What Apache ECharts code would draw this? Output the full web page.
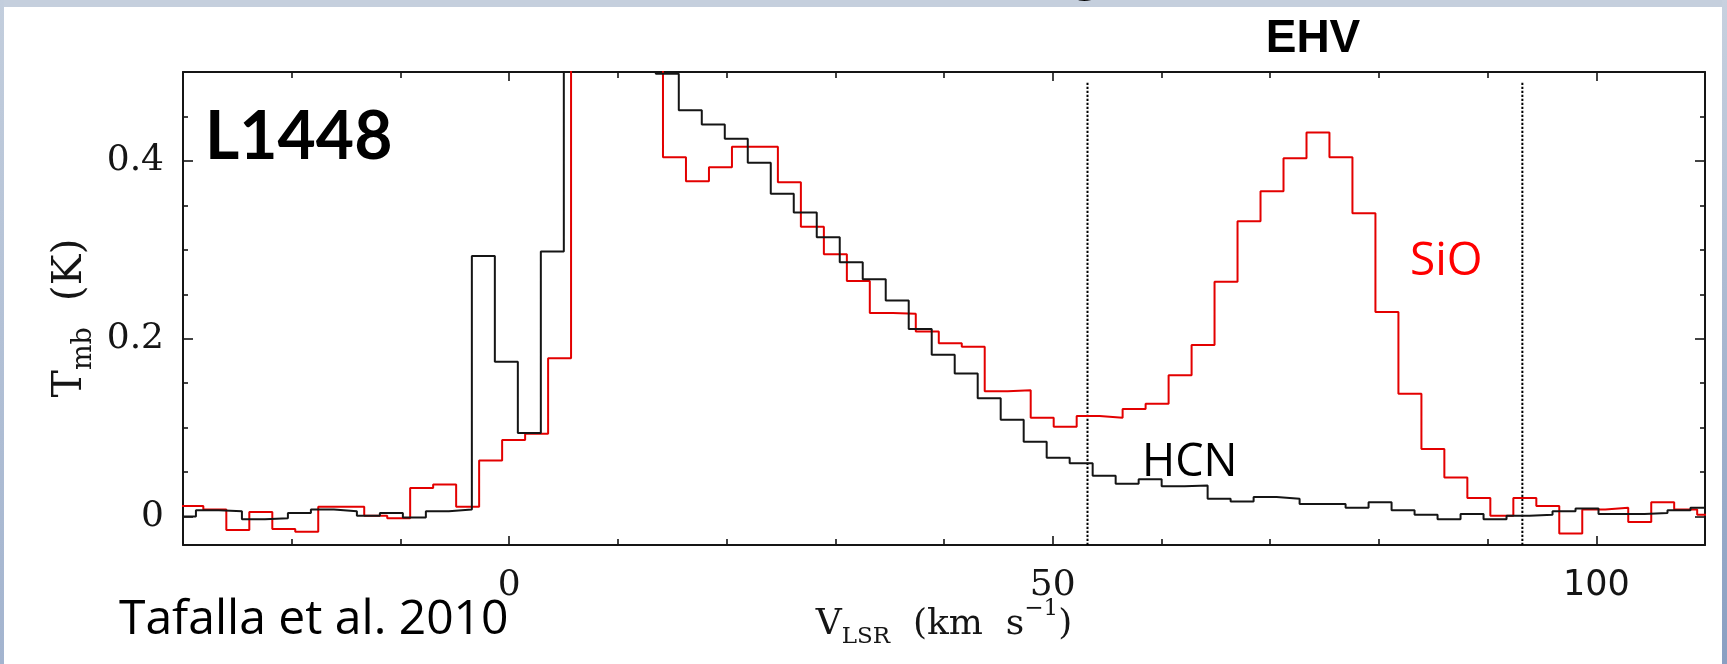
<!DOCTYPE html>
<html>
<head>
<meta charset="utf-8">
<script src="https://cdn.jsdelivr.net/npm/echarts@6/dist/echarts.min.js"></script>
<style>
  html, body { margin: 0; padding: 0; background: #ffffff; }
  #chart { width: 1727px; height: 664px; }
</style>
</head>
<body>
<div id="chart"></div>
<script>
// L1448 spectra: HCN (black) and SiO (red), channel-centre velocities in km/s
// and main-beam temperatures in K. Channels above 0.5 K run off the top.
const hcnVelocity = [
  -29.87, -27.75, -25.64, -23.52, -21.41, -19.29, -17.18, -15.06, -12.95, -10.83,
  -8.72, -6.60, -4.49, -2.37, -0.26, 1.86, 3.97, 6.09, 8.20, 10.32,
  12.43, 14.55, 16.66, 18.78, 20.89, 23.01, 25.12, 27.24, 29.35, 31.47,
  33.58, 35.70, 37.81, 39.93, 42.04, 44.16, 46.27, 48.39, 50.50, 52.62,
  54.73, 56.85, 58.96, 61.08, 63.19, 65.31, 67.42, 69.54, 71.65, 73.77,
  75.88, 78.00, 80.11, 82.23, 84.34, 86.46, 88.57, 90.69, 92.80, 94.92,
  97.03, 99.15, 101.26, 103.38, 105.49, 107.61, 109.72
];
const hcnTmb = [
  0.000, 0.007, 0.006, -0.003, -0.002, 0.004, 0.008, 0.006, 0.001, 0.004,
  -0.001, 0.006, 0.008, 0.293, 0.174, 0.094, 0.298, 0.95, 1.85, 1.62,
  0.82, 0.498, 0.457, 0.441, 0.425, 0.398, 0.363, 0.342, 0.314, 0.286,
  0.267, 0.243, 0.211, 0.182, 0.161, 0.133, 0.109, 0.084, 0.066, 0.060,
  0.046, 0.037, 0.042, 0.034, 0.035, 0.020, 0.017, 0.022, 0.020, 0.014,
  0.014, 0.010, 0.016, 0.007, 0.002, -0.003, 0.003, -0.003, 0.001, 0.002,
  0.006, 0.009, 0.003, 0.003, 0.004, 0.007, 0.010
];
const sioVelocity = [
  -29.19, -27.07, -24.96, -22.84, -20.73, -18.62, -16.50, -14.39, -12.27, -10.16,
  -8.05, -5.93, -3.82, -1.70, 0.41, 2.53, 4.64, 6.75, 8.87, 10.98,
  13.09, 15.21, 17.32, 19.44, 21.55, 23.66, 25.78, 27.89, 30.01, 32.12,
  34.23, 36.35, 38.46, 40.58, 42.69, 44.80, 46.92, 49.03, 51.15, 53.26,
  55.37, 57.49, 59.60, 61.72, 63.83, 65.94, 68.06, 70.17, 72.29, 74.40,
  76.51, 78.63, 80.74, 82.86, 84.97, 87.08, 89.20, 91.31, 93.43, 95.54,
  97.65, 99.77, 101.88, 104.00, 106.11, 108.22, 110.34
];
const sioTmb = [
  0.012, 0.008, -0.015, 0.005, -0.014, -0.017, 0.011, 0.011, 0.001, -0.002,
  0.032, 0.036, 0.011, 0.063, 0.086, 0.093, 0.178, 0.78, 1.35, 1.10,
  0.62, 0.404, 0.377, 0.393, 0.416, 0.416, 0.376, 0.326, 0.295, 0.265,
  0.229, 0.228, 0.208, 0.195, 0.191, 0.141, 0.142, 0.111, 0.101, 0.113,
  0.111, 0.121, 0.127, 0.159, 0.193, 0.264, 0.332, 0.366, 0.403, 0.432,
  0.404, 0.341, 0.230, 0.138, 0.076, 0.044, 0.021, 0.001, 0.021, 0.012,
  -0.019, 0.008, 0.010, -0.006, 0.016, 0.008, 0.002
];
const channelWidth = 2.115;          // km/s
const ehvLimits = [53.2, 93.2];      // extremely-high-velocity window, km/s
const ehvLineTop = 0.49;             // K

const xRange = [-30, 110];
const yRange = [-0.032, 0.5];
const xMajorTicks = [0, 50, 100];
const xMinorTicks = [-20, -10, 10, 20, 30, 40, 60, 70, 80, 90];
const yMajorTicks = [0, 0.2, 0.4];
const yMinorTicks = [0.05, 0.1, 0.15, 0.25, 0.3, 0.35, 0.45];

// Turn channel centres into histogram outline vertices (flat top per channel).
function histogram(vel, tmb, width) {
  const pts = [];
  for (let i = 0; i < vel.length; i++) {
    const lo = i === 0 ? vel[0] - width / 2 : (vel[i - 1] + vel[i]) / 2;
    const hi = i === vel.length - 1 ? vel[i] + width / 2 : (vel[i] + vel[i + 1]) / 2;
    pts.push([lo, tmb[i]], [hi, tmb[i]]);
  }
  return pts;
}

const INK = '#151515';
const frameLine = { color: INK, width: 2 };
const tickLine = { color: INK, width: 1.6 };
const SERIF = 'DejaVu Serif';

const gridBox = { left: 183, right: 22, top: 72, bottom: 119 };

function titleRich(size, subSize, supRise) {
  return {
    n:   { fontFamily: SERIF, fontSize: size, lineHeight: size, color: INK, padding: [0, 0, 6, 0], verticalAlign: 'bottom' },
    sub: { fontFamily: SERIF, fontSize: subSize, lineHeight: subSize, color: INK, padding: [0, 0, 0, 0], verticalAlign: 'bottom' },
    sup: { fontFamily: SERIF, fontSize: subSize, lineHeight: subSize, color: INK, padding: [0, 0, supRise, 0], verticalAlign: 'bottom' }
  };
}

function baseAxis(extra) {
  return Object.assign({
    type: 'value',
    splitLine: { show: false },
    axisLabel: { show: false },
    axisLine: { show: false, onZero: false }
  }, extra);
}

const option = {
  animation: false,
  backgroundColor: '#ffffff',
  grid: [Object.assign({}, gridBox), Object.assign({}, gridBox)],
  xAxis: [
    baseAxis({
      gridIndex: 0, position: 'bottom', min: xRange[0], max: xRange[1],
      axisLine: { show: true, onZero: false, lineStyle: frameLine },
      axisTick: { show: true, inside: true, length: 9, customValues: xMajorTicks, lineStyle: tickLine },
      axisLabel: {
        show: true, customValues: xMajorTicks, margin: 23,
        formatter: v => (v === 100 ? '{s|' + v + '}' : '{r|' + v + '}'),
        rich: {
          r: { fontFamily: SERIF, fontSize: 36, color: INK },
          s: { fontFamily: 'DejaVu Sans', fontSize: 35, color: INK }
        }
      },
      name: '{n|V}{sub|LSR}{n|  (km  s}{sup|\u22121}{n|)}',
      nameLocation: 'middle', nameGap: 68, nameMoveOverlap: false,
      nameTextStyle: { rich: titleRich(36, 23, 28) }
    }),
    baseAxis({
      gridIndex: 0, position: 'top', min: xRange[0], max: xRange[1],
      axisLine: { show: true, onZero: false, lineStyle: frameLine },
      axisTick: { show: true, inside: true, length: 9, customValues: xMajorTicks, lineStyle: tickLine }
    }),
    baseAxis({
      gridIndex: 1, position: 'bottom', min: xRange[0], max: xRange[1],
      axisTick: { show: true, inside: true, length: 6, customValues: xMinorTicks, lineStyle: tickLine }
    }),
    baseAxis({
      gridIndex: 1, position: 'top', min: xRange[0], max: xRange[1],
      axisTick: { show: true, inside: true, length: 6, customValues: xMinorTicks, lineStyle: tickLine }
    })
  ],
  yAxis: [
    baseAxis({
      gridIndex: 0, position: 'left', min: yRange[0], max: yRange[1],
      axisLine: { show: true, onZero: false, lineStyle: frameLine },
      axisTick: { show: true, inside: true, length: 10, customValues: yMajorTicks, lineStyle: tickLine },
      axisLabel: {
        show: true, customValues: yMajorTicks, margin: 19,
        fontFamily: SERIF, fontSize: 36, color: INK,
        formatter: v => String(v)
      },
      name: '{n|T}{sub|mb}{n|  (K)}',
      nameLocation: 'middle', nameRotate: 90, nameGap: 86, nameMoveOverlap: false,
      nameTextStyle: { rich: titleRich(41, 27, 0), padding: [0, 19, 0, 0] }
    }),
    baseAxis({
      gridIndex: 0, position: 'right', min: yRange[0], max: yRange[1],
      axisLine: { show: true, onZero: false, lineStyle: frameLine },
      axisTick: { show: true, inside: true, length: 10, customValues: yMajorTicks, lineStyle: tickLine }
    }),
    baseAxis({
      gridIndex: 1, position: 'left', min: yRange[0], max: yRange[1],
      axisTick: { show: true, inside: true, length: 5, customValues: yMinorTicks, lineStyle: tickLine }
    }),
    baseAxis({
      gridIndex: 1, position: 'right', min: yRange[0], max: yRange[1],
      axisTick: { show: true, inside: true, length: 5, customValues: yMinorTicks, lineStyle: tickLine }
    })
  ],
  series: [
    ...ehvLimits.map(v => ({
      type: 'line', xAxisIndex: 0, yAxisIndex: 0,
      data: [[v, yRange[0]], [v, ehvLineTop]],
      symbol: 'none', silent: true, clip: false,
      lineStyle: { color: '#000', width: 2, type: [2.2, 1.8] }
    })),
    {
      name: 'SiO', type: 'line', xAxisIndex: 0, yAxisIndex: 0,
      data: histogram(sioVelocity, sioTmb, channelWidth),
      symbol: 'none', clip: true,
      lineStyle: { color: '#e30000', width: 2 }
    },
    {
      name: 'HCN', type: 'line', xAxisIndex: 0, yAxisIndex: 0,
      data: histogram(hcnVelocity, hcnTmb, channelWidth),
      symbol: 'none', clip: true,
      lineStyle: { color: INK, width: 2 }
    }
  ],
  graphic: [
    // slide border strips
    { type: 'rect', silent: true, shape: { x: 0, y: 0, width: 1727, height: 7 }, style: { fill: '#c5cfdd' } },
    { type: 'rect', silent: true, shape: { x: 0, y: 0, width: 4, height: 664 },
      style: { fill: new echarts.graphic.LinearGradient(0, 0, 0, 1, [
        { offset: 0, color: '#c3cedd' }, { offset: 1, color: '#a3b4cf' }]) } },
    { type: 'rect', silent: true, shape: { x: 1722, y: 0, width: 5, height: 664 },
      style: { fill: new echarts.graphic.LinearGradient(0, 0, 0, 1, [
        { offset: 0, color: '#c8d1df' }, { offset: 1, color: '#8a9fc2' }]) } },
    { type: 'text', silent: true, z: 20, style: {
      text: 'g', x: 1085, y: -26, font: 'bold 56px "Liberation Sans"', fill: '#000',
      align: 'center', textAlign: 'center', verticalAlign: 'middle', textVerticalAlign: 'middle' } },
    // annotations
    { type: 'text', silent: true, z: 10, style: {
      text: 'L1448', x: 205, y: 138, font: 'bold 66px Lato', fill: '#000',
      align: 'left', textAlign: 'left', verticalAlign: 'middle', textVerticalAlign: 'middle' } },
    { type: 'text', silent: true, z: 10, style: {
      text: 'EHV', x: 1313, y: 39, font: 'bold 46px "Liberation Sans"', fill: '#000',
      align: 'center', textAlign: 'center', verticalAlign: 'middle', textVerticalAlign: 'middle' } },
    { type: 'text', silent: true, z: 10, style: {
      text: 'SiO', x: 1410, y: 262, font: '46px "Open Sans"', fill: '#ff0000',
      align: 'left', textAlign: 'left', verticalAlign: 'middle', textVerticalAlign: 'middle' } },
    { type: 'text', silent: true, z: 10, style: {
      text: 'HCN', x: 1142, y: 463, font: '45px "Open Sans"', fill: '#000',
      align: 'left', textAlign: 'left', verticalAlign: 'middle', textVerticalAlign: 'middle' } },
    { type: 'text', silent: true, z: 10, style: {
      text: 'Tafalla et al. 2010', x: 119, y: 620, font: '48px "Open Sans"', fill: '#000',
      align: 'left', textAlign: 'left', verticalAlign: 'middle', textVerticalAlign: 'middle' } }
  ]
};

const chart = echarts.init(document.getElementById('chart'), null, { renderer: 'canvas' });
chart.setOption(option);
</script>
</body>
</html>
